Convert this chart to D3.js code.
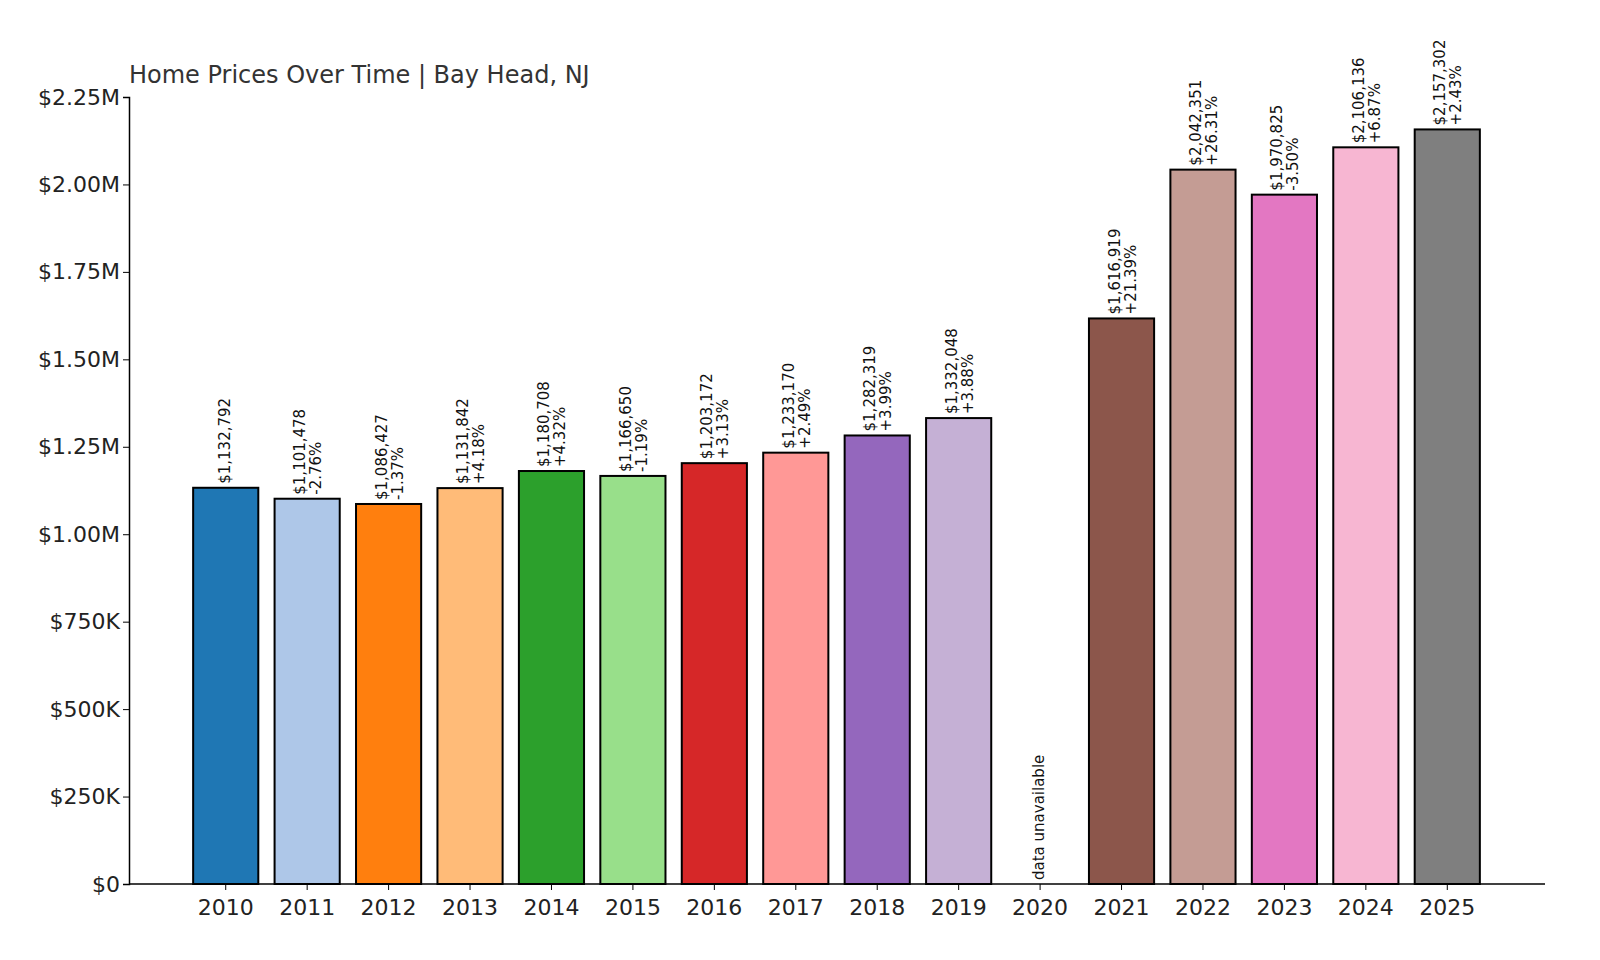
<!DOCTYPE html>
<html><head><meta charset="utf-8">
<script src="https://cdn.jsdelivr.net/npm/d3@7"></script>
<style>body{margin:0;background:#fff;font-family:"DejaVu Sans",sans-serif}</style>
</head><body><svg id="c" width="1600" height="960"></svg>
<script>
const years=["2010","2011","2012","2013","2014","2015","2016","2017","2018","2019","2020","2021","2022","2023","2024","2025"];
const values=[1132792,1101478,1086427,1131842,1180708,1166650,1203172,1233170,1282319,1332048,null,1616919,2042351,1970825,2106136,2157302];
const changes=["","-2.76%","-1.37%","+4.18%","+4.32%","-1.19%","+3.13%","+2.49%","+3.99%","+3.88%","","+21.39%","+26.31%","-3.50%","+6.87%","+2.43%"];
const colors=["#1f77b4","#aec7e8","#ff7f0e","#ffbb78","#2ca02c","#98df8a","#d62728","#ff9896","#9467bd","#c5b0d5","#8c564b","#8c564b","#c49c94","#e377c2","#f7b6d2","#7f7f7f"];
const yTicks=[0,250000,500000,750000,1000000,1250000,1500000,1750000,2000000,2250000];
const yTickLabels=["$0","$250K","$500K","$750K","$1.00M","$1.25M","$1.50M","$1.75M","$2.00M","$2.25M"];
const svg=d3.select("#c");
const x=d3.scaleBand().domain(years).range([185,1488]).paddingInner(0.2).paddingOuter(0.1);
const y=d3.scaleLinear().domain([0,2250000]).range([884,97]);
const ya=svg.append("g").attr("transform","translate(129,0)").call(d3.axisLeft(y).tickValues(yTicks).tickFormat((d,i)=>yTickLabels[i]).tickSizeOuter(0).tickSize(6));
ya.selectAll("text").attr("font-size",22).attr("fill","#222").attr("font-family","DejaVu Sans");
const xa=svg.append("g").attr("transform","translate(0,884)").call(d3.axisBottom(x).tickSizeOuter(0).tickSize(6));
xa.select(".domain").attr("d","M129,0H1545");
xa.selectAll("text").attr("font-size",22).attr("fill","#222").attr("font-family","DejaVu Sans").attr("dy","1em");
svg.selectAll(".domain").attr("stroke","#000").attr("stroke-width",1.5);
const data=years.map((yr,i)=>({yr,v:values[i],c:changes[i],col:colors[i]}));
svg.selectAll("rect.b").data(data.filter(d=>d.v!=null)).join("rect")
 .attr("x",d=>x(d.yr)).attr("width",x.bandwidth()).attr("y",d=>y(d.v)).attr("height",d=>884-y(d.v))
 .attr("fill",d=>d.col).attr("stroke","#000").attr("stroke-width",2);
const lab=svg.selectAll("g.l").data(data).join("g")
 .attr("transform",d=>`translate(${x(d.yr)+x.bandwidth()/2},${d.v==null?880:y(d.v)-4}) rotate(-90)`);
lab.append("text").attr("x",0).attr("y",d=>d.c?-2:4).attr("font-size",15).attr("fill","#111")
 .text(d=>d.v==null?"data unavailable":"$"+d3.format(",")(d.v));
lab.filter(d=>d.c).append("text").attr("x",0).attr("y",14).attr("font-size",15).attr("fill","#111").text(d=>d.c);
svg.append("text").attr("x",129).attr("y",83).attr("font-size",24).attr("fill","#333").text("Home Prices Over Time | Bay Head, NJ");
</script></body></html>
